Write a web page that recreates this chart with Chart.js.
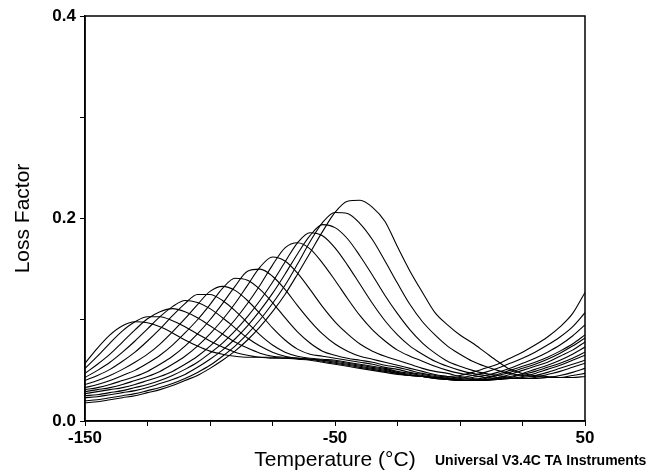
<!DOCTYPE html>
<html>
<head>
<meta charset="utf-8">
<script src="https://cdn.jsdelivr.net/npm/chart.js@4/dist/chart.umd.min.js"></script>
<style>
  html, body { margin: 0; padding: 0; background: #fff; }
  #wrap { width: 653px; height: 472px; position: relative; }
</style>
</head>
<body>
<div id="wrap"><canvas id="c" width="653" height="472"></canvas></div>
<script>
// Temperatures (°C)
const temps = [-150,-145,-140,-135,-130,-125,-120,-115,-110,-105,-100,-95,-90,-85,-80,-75,-70,-65,-60,-55,-50,-45,-40,-35,-30,-25,-20,-15,-10,-5,0,5,10,15,20,25,30,35,40,45,50];

// Loss factor curves
const curve1 = [0.057,0.072,0.085,0.094,0.098,0.097,0.093,0.087,0.080,0.074,0.069,0.066,0.064,0.063,0.063,0.062,0.062,0.061,0.060,0.058,0.056,0.054,0.052,0.050,0.048,0.046,0.045,0.044,0.043,0.044,0.045,0.048,0.052,0.056,0.062,0.068,0.075,0.083,0.093,0.106,0.127];
const curve2 = [0.052,0.064,0.077,0.089,0.098,0.103,0.103,0.099,0.093,0.086,0.079,0.073,0.068,0.065,0.063,0.063,0.062,0.062,0.061,0.059,0.057,0.055,0.053,0.051,0.049,0.047,0.045,0.044,0.043,0.042,0.043,0.045,0.048,0.052,0.057,0.062,0.068,0.075,0.083,0.093,0.107];
const curve3 = [0.047,0.056,0.066,0.078,0.090,0.101,0.108,0.111,0.108,0.102,0.094,0.086,0.078,0.072,0.067,0.064,0.063,0.062,0.061,0.060,0.058,0.056,0.054,0.052,0.050,0.047,0.045,0.044,0.042,0.041,0.041,0.043,0.045,0.048,0.052,0.057,0.062,0.068,0.075,0.084,0.095];
const curve4 = [0.043,0.050,0.058,0.068,0.079,0.091,0.103,0.113,0.119,0.117,0.111,0.102,0.092,0.082,0.074,0.068,0.064,0.062,0.061,0.060,0.059,0.057,0.055,0.053,0.051,0.048,0.046,0.044,0.042,0.041,0.040,0.041,0.043,0.046,0.050,0.054,0.058,0.063,0.069,0.076,0.085];
const curve5 = [0.040,0.045,0.051,0.059,0.068,0.079,0.091,0.104,0.116,0.125,0.125,0.119,0.109,0.097,0.085,0.075,0.068,0.064,0.062,0.061,0.060,0.058,0.056,0.054,0.052,0.049,0.047,0.045,0.043,0.041,0.040,0.040,0.042,0.045,0.048,0.052,0.056,0.061,0.067,0.074,0.082];
const curve6 = [0.036,0.040,0.045,0.051,0.058,0.066,0.076,0.088,0.101,0.115,0.128,0.133,0.129,0.119,0.106,0.092,0.080,0.071,0.066,0.064,0.062,0.060,0.058,0.056,0.053,0.051,0.048,0.046,0.044,0.042,0.040,0.040,0.041,0.043,0.046,0.050,0.054,0.058,0.064,0.070,0.078];
const curve7 = [0.033,0.036,0.040,0.045,0.050,0.057,0.065,0.075,0.087,0.100,0.115,0.131,0.141,0.139,0.130,0.117,0.102,0.088,0.077,0.069,0.065,0.062,0.060,0.058,0.055,0.053,0.050,0.047,0.045,0.043,0.041,0.040,0.040,0.042,0.044,0.047,0.051,0.055,0.060,0.066,0.073];
const curve8 = [0.031,0.033,0.036,0.040,0.044,0.049,0.056,0.064,0.074,0.086,0.100,0.116,0.133,0.148,0.150,0.143,0.130,0.114,0.099,0.086,0.076,0.069,0.064,0.061,0.058,0.055,0.052,0.049,0.046,0.044,0.042,0.041,0.040,0.041,0.043,0.046,0.049,0.053,0.057,0.062,0.068];
const curve9 = [0.029,0.031,0.033,0.036,0.040,0.044,0.049,0.056,0.064,0.074,0.086,0.100,0.116,0.134,0.152,0.162,0.158,0.146,0.130,0.113,0.098,0.086,0.076,0.069,0.064,0.060,0.056,0.052,0.049,0.047,0.044,0.042,0.041,0.041,0.042,0.044,0.047,0.051,0.055,0.060,0.065];
const curve10 = [0.027,0.029,0.031,0.033,0.036,0.040,0.044,0.049,0.056,0.064,0.074,0.086,0.100,0.116,0.134,0.154,0.171,0.176,0.170,0.156,0.139,0.121,0.104,0.090,0.079,0.070,0.064,0.059,0.054,0.050,0.047,0.045,0.043,0.042,0.042,0.043,0.045,0.048,0.052,0.056,0.060];
const curve11 = [0.025,0.026,0.028,0.030,0.033,0.036,0.040,0.045,0.051,0.058,0.067,0.077,0.089,0.103,0.119,0.137,0.157,0.176,0.186,0.183,0.171,0.154,0.135,0.116,0.099,0.085,0.074,0.066,0.059,0.054,0.050,0.047,0.045,0.043,0.042,0.042,0.043,0.046,0.049,0.053,0.057];
const curve12 = [0.023,0.024,0.026,0.028,0.030,0.033,0.037,0.041,0.046,0.053,0.061,0.070,0.081,0.094,0.109,0.126,0.145,0.165,0.183,0.194,0.191,0.180,0.163,0.144,0.124,0.106,0.090,0.077,0.067,0.059,0.054,0.050,0.047,0.045,0.043,0.042,0.042,0.043,0.045,0.048,0.052];
const curve13 = [0.020,0.021,0.023,0.025,0.027,0.030,0.033,0.037,0.042,0.048,0.055,0.064,0.074,0.086,0.100,0.116,0.134,0.155,0.177,0.196,0.206,0.205,0.195,0.179,0.158,0.136,0.115,0.098,0.085,0.074,0.066,0.059,0.054,0.050,0.047,0.045,0.044,0.043,0.043,0.045,0.047];
const curve14 = [0.018,0.019,0.021,0.023,0.025,0.028,0.031,0.035,0.040,0.045,0.052,0.060,0.069,0.080,0.093,0.108,0.125,0.145,0.166,0.187,0.206,0.217,0.218,0.211,0.197,0.172,0.148,0.127,0.107,0.095,0.085,0.077,0.068,0.059,0.051,0.047,0.045,0.044,0.043,0.043,0.044];

const seriesList = [curve1,curve2,curve3,curve4,curve5,curve6,curve7,curve8,curve9,curve10,curve11,curve12,curve13,curve14];

// Axis tick labels
const xTickLabels = [-150, -50, 50];
const yTickLabels = [0.0, 0.2, 0.4];

const datasets = seriesList.map((arr, i) => ({
  label: 'Curve ' + (i + 1),
  data: temps.map((t, j) => ({ x: t, y: arr[j] })),
  borderColor: '#000',
  borderWidth: 1.1,
  pointRadius: 0,
  fill: false,
  cubicInterpolationMode: 'monotone'
}));

const framePlugin = {
  id: 'frame',
  afterDraw(chart) {
    const { ctx, chartArea: a } = chart;
    ctx.save();
    ctx.strokeStyle = '#000';
    ctx.lineWidth = 1.5;
    ctx.strokeRect(a.left, a.top, a.right - a.left, a.bottom - a.top);
    ctx.fillStyle = '#000';
    ctx.font = 'bold 14px "Liberation Sans", Arial, sans-serif';
    ctx.textBaseline = 'middle';
    ctx.textAlign = 'left';
    ctx.fillText('Universal V3.4C TA Instruments', 435, 461);
    ctx.restore();
  }
};

new Chart(document.getElementById('c'), {
  type: 'line',
  data: { datasets },
  plugins: [framePlugin],
  options: {
    responsive: false,
    animation: false,
    events: [],
    layout: { padding: { left: 0, right: 68, top: 16, bottom: 0 } },
    plugins: { legend: { display: false }, tooltip: { enabled: false } },
    scales: {
      x: {
        type: 'linear',
        min: -150, max: 50,
        afterFit(s) { s.height = 51; },
        ticks: {
          stepSize: 25,
          autoSkip: false,
          maxRotation: 0,
          color: '#000',
          padding: 2,
          font: { family: '"Liberation Sans", Arial, sans-serif', size: 17, weight: 'bold' },
          callback: (v) => xTickLabels.includes(v) ? String(v) : ''
        },
        grid: { display: true, drawOnChartArea: false, drawTicks: true, tickLength: 5, color: '#000', tickWidth: 1 },
        border: { display: true, color: '#000', width: 1.5 },
        title: {
          display: true, text: 'Temperature (°C)', color: '#000',
          font: { family: '"Liberation Sans", Arial, sans-serif', size: 21 },
          padding: { top: 0, bottom: -1 }
        }
      },
      y: {
        min: 0, max: 0.4,
        afterFit(s) { s.width = 85; },
        ticks: {
          stepSize: 0.1,
          autoSkip: false,
          color: '#000',
          padding: 4,
          font: { family: '"Liberation Sans", Arial, sans-serif', size: 17, weight: 'bold' },
          callback: (v) => {
            const r = Math.round(v * 10) / 10;
            return yTickLabels.some(t => Math.abs(t - r) < 1e-9) ? r.toFixed(1) : '';
          }
        },
        grid: { display: true, drawOnChartArea: false, drawTicks: true, tickLength: 5, color: '#000', tickWidth: 1 },
        border: { display: true, color: '#000', width: 1.5 },
        title: {
          display: true, text: 'Loss Factor', color: '#000',
          font: { family: '"Liberation Sans", Arial, sans-serif', size: 21 },
          padding: { top: 11, bottom: 0 }
        }
      }
    }
  }
});
</script>
</body>
</html>
